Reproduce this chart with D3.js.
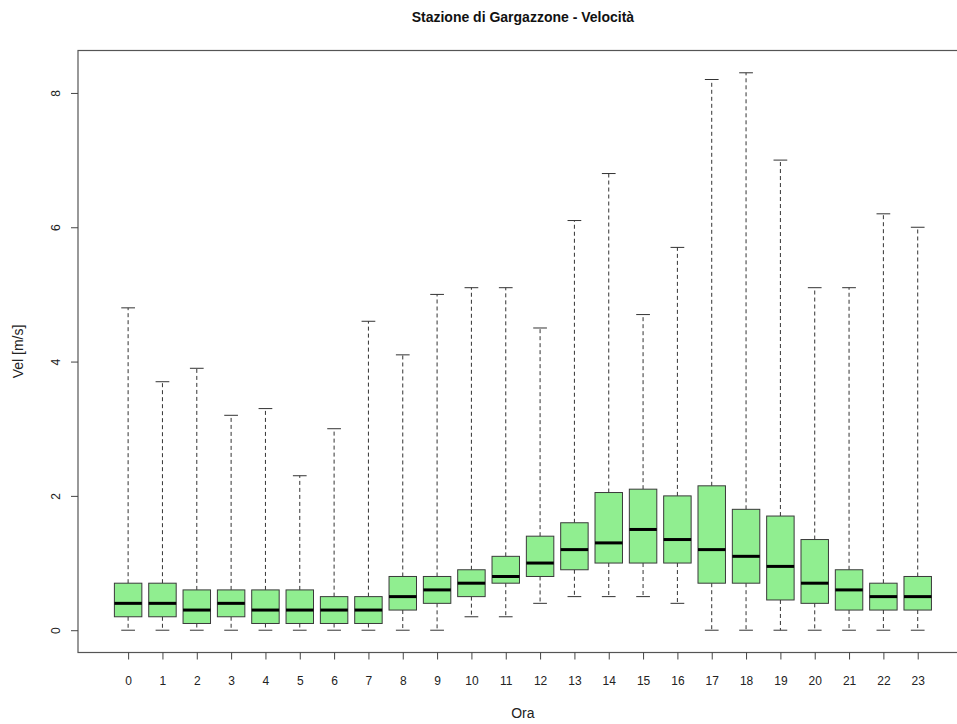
<!DOCTYPE html>
<html>
<head>
<meta charset="utf-8">
<script src="https://cdn.jsdelivr.net/npm/d3@7"></script>
<style>
  html, body { margin: 0; padding: 0; background: #fff; }
  svg { display: block; font-family: "Liberation Sans", Arial, sans-serif; }
</style>
</head>
<body>
<svg id="chart" width="957" height="724"></svg>
<script>
// Hourly wind speed distribution, Gargazzone station
const hours = ["0","1","2","3","4","5","6","7","8","9","10","11","12","13","14","15","16","17","18","19","20","21","22","23"];
const whiskerLow  = [0, 0, 0, 0, 0, 0, 0, 0, 0, 0, 0.2, 0.2, 0.4, 0.5, 0.5, 0.5, 0.4, 0, 0, 0, 0, 0, 0, 0];
const q1          = [0.2, 0.2, 0.1, 0.2, 0.1, 0.1, 0.1, 0.1, 0.3, 0.4, 0.5, 0.7, 0.8, 0.9, 1.0, 1.0, 1.0, 0.7, 0.7, 0.45, 0.4, 0.3, 0.3, 0.3];
const median      = [0.4, 0.4, 0.3, 0.4, 0.3, 0.3, 0.3, 0.3, 0.5, 0.6, 0.7, 0.8, 1.0, 1.2, 1.3, 1.5, 1.35, 1.2, 1.1, 0.95, 0.7, 0.6, 0.5, 0.5];
const q3          = [0.7, 0.7, 0.6, 0.6, 0.6, 0.6, 0.5, 0.5, 0.8, 0.8, 0.9, 1.1, 1.4, 1.6, 2.05, 2.1, 2.0, 2.15, 1.8, 1.7, 1.35, 0.9, 0.7, 0.8];
const whiskerHigh = [4.8, 3.7, 3.9, 3.2, 3.3, 2.3, 3.0, 4.6, 4.1, 5.0, 5.1, 5.1, 4.5, 6.1, 6.8, 4.7, 5.7, 8.2, 8.3, 7.0, 5.1, 5.1, 6.2, 6.0];
const yTicks = [0, 2, 4, 6, 8];

const titleText = "Stazione di Gargazzone - Velocità";
const xTitle = "Ora";
const yTitle = "Vel [m/s]";

const svg = d3.select("#chart");

// Plot region: frame runs off the right edge of the canvas
const plotLeft = 78, plotTop = 50.5, plotBottom = 652.5;
const unit = 34.33;
const nBoxes = hours.length;
const xLo = -1.46, xHi = nBoxes - 1 + 1.46;
const plotRight = plotLeft + (xHi - xLo) * unit;

const x = d3.scaleLinear().domain([xLo, xHi]).range([plotLeft, plotRight]);
const y = d3.scaleLinear().domain([-0.332, 8.632]).range([plotBottom, plotTop]);

const boxW = 0.8 * unit;
const capW = boxW / 2;

const data = hours.map((h, i) => ({
  h, i,
  lo: whiskerLow[i], q1: q1[i], med: median[i], q3: q3[i], hi: whiskerHigh[i]
}));

const g = svg.append("g");

// whiskers (dashed)
g.selectAll("line.wup").data(data).join("line")
  .attr("x1", d => x(d.i)).attr("x2", d => x(d.i))
  .attr("y1", d => y(d.q3)).attr("y2", d => y(d.hi))
  .attr("stroke", "#333").attr("stroke-width", 1).attr("stroke-dasharray", "4,3");
g.selectAll("line.wdn").data(data).join("line")
  .attr("x1", d => x(d.i)).attr("x2", d => x(d.i))
  .attr("y1", d => y(d.q1)).attr("y2", d => y(d.lo))
  .attr("stroke", "#333").attr("stroke-width", 1).attr("stroke-dasharray", "4,3");

// whisker caps
g.selectAll("line.capHi").data(data).join("line")
  .attr("x1", d => x(d.i) - capW / 2).attr("x2", d => x(d.i) + capW / 2)
  .attr("y1", d => y(d.hi)).attr("y2", d => y(d.hi))
  .attr("stroke", "#333").attr("stroke-width", 1);
g.selectAll("line.capLo").data(data).join("line")
  .attr("x1", d => x(d.i) - capW / 2).attr("x2", d => x(d.i) + capW / 2)
  .attr("y1", d => y(d.lo)).attr("y2", d => y(d.lo))
  .attr("stroke", "#333").attr("stroke-width", 1);

// boxes
g.selectAll("rect.box").data(data).join("rect")
  .attr("x", d => x(d.i) - boxW / 2)
  .attr("y", d => y(d.q3))
  .attr("width", boxW)
  .attr("height", d => y(d.q1) - y(d.q3))
  .attr("fill", "#90EE90").attr("stroke", "#3a3a3a").attr("stroke-width", 1);

// medians
g.selectAll("line.med").data(data).join("line")
  .attr("x1", d => x(d.i) - boxW / 2).attr("x2", d => x(d.i) + boxW / 2)
  .attr("y1", d => y(d.med)).attr("y2", d => y(d.med))
  .attr("stroke", "#000").attr("stroke-width", 3);

// frame
svg.append("rect")
  .attr("x", plotLeft).attr("y", plotTop)
  .attr("width", plotRight - plotLeft).attr("height", plotBottom - plotTop)
  .attr("fill", "none").attr("stroke", "#555").attr("stroke-width", 1.2);

// y axis
const yAxis = d3.axisLeft(y).tickValues(yTicks).tickSize(7).tickPadding(10).tickFormat(d3.format("d"));
const ya = svg.append("g").attr("transform", `translate(${plotLeft},0)`).call(yAxis);
ya.select(".domain").remove();
ya.selectAll(".tick line").attr("stroke", "#444");
ya.selectAll(".tick text")
  .attr("font-size", 12).attr("fill", "#222")
  .attr("text-anchor", "middle")
  .attr("transform", "translate(-22,0) rotate(-90)")
  .attr("x", 0).attr("dy", "0.35em");

// x axis
const xAxis = d3.axisBottom(x).tickValues(d3.range(nBoxes)).tickSize(7).tickPadding(17)
  .tickFormat(i => hours[i]);
const xa = svg.append("g").attr("transform", `translate(0,${plotBottom})`).call(xAxis);
xa.select(".domain").remove();
xa.selectAll(".tick line").attr("stroke", "#444");
xa.selectAll(".tick text").attr("font-size", 12).attr("fill", "#222");

// titles
svg.append("text")
  .attr("x", (plotLeft + plotRight) / 2).attr("y", 22)
  .attr("text-anchor", "middle")
  .attr("font-size", 14).attr("font-weight", "bold").attr("fill", "#111")
  .text(titleText);

svg.append("text")
  .attr("x", (plotLeft + plotRight) / 2).attr("y", 718)
  .attr("text-anchor", "middle")
  .attr("font-size", 14).attr("fill", "#222")
  .text(xTitle);

svg.append("text")
  .attr("transform", `translate(23,${(plotTop + plotBottom) / 2}) rotate(-90)`)
  .attr("text-anchor", "middle")
  .attr("font-size", 14).attr("fill", "#222")
  .text(yTitle);
</script>
</body>
</html>
